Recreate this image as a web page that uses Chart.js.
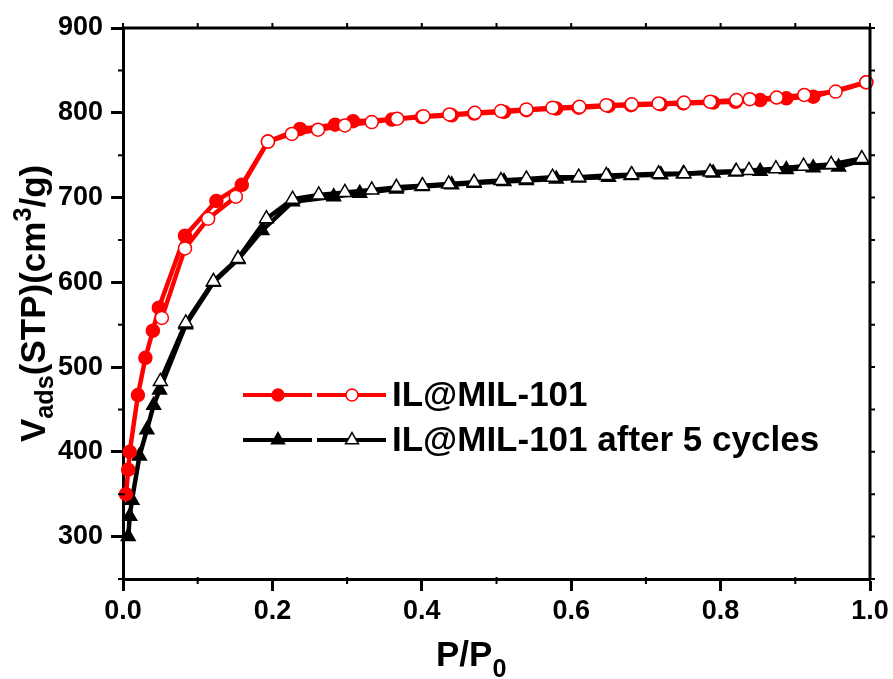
<!DOCTYPE html>
<html>
<head>
<meta charset="utf-8">
<script src="https://cdn.jsdelivr.net/npm/chart.js@4.4.0/dist/chart.umd.min.js"></script>
<style>
  html, body { margin: 0; padding: 0; background: #fff; }
  #wrap { position: relative; width: 893px; height: 679px; overflow: hidden; }
  .ttl { position: absolute; font-family: "Liberation Sans", Arial, sans-serif; font-weight: bold; color: #000; line-height: 1; white-space: nowrap; }
  .ttl sub, .ttl sup { font-size: 0.72em; line-height: 0; }
  #xTitle { left: 436px; top: 636px; font-size: 35px; }
  #xTitle sub { position: relative; top: 0.45em; vertical-align: baseline; }
  #yTitle { left: 15px; top: 442px; font-size: 35px; transform-origin: 0 0; transform: rotate(-90deg); }
  #yTitle sub { position: relative; top: 0.3em; vertical-align: baseline; }
  #yTitle sup { position: relative; top: -0.55em; vertical-align: baseline; }
</style>
</head>
<body>
<div id="wrap">
  <canvas id="chart" width="893" height="679"></canvas>
  <div class="ttl" id="xTitle">P/P<sub>0</sub></div>
  <div class="ttl" id="yTitle">V<sub>ads</sub>(STP)(cm<sup>3</sup>/g)</div>
</div>
<script>
// tick values
const xTicks = [0, 0.2, 0.4, 0.6, 0.8, 1.0];
const xMinor = [0.1, 0.3, 0.5, 0.7, 0.9];
const yTicks = [300, 400, 500, 600, 700, 800, 900];
const yMinor = [250, 350, 450, 550, 650, 750, 850];

// IL@MIL-101 - adsorption (filled) / desorption (open)
const redAdsX = [0.004, 0.007, 0.009, 0.020, 0.030, 0.040, 0.048, 0.083, 0.125, 0.159, 0.194, 0.237, 0.284, 0.308,
  0.36, 0.40, 0.44, 0.47, 0.51, 0.54, 0.58, 0.61, 0.65, 0.68, 0.72, 0.75, 0.79, 0.82, 0.853, 0.888, 0.924, 0.995];
const redAdsY = [350, 379, 400, 467, 511, 543, 570, 655, 696, 715, 766, 781, 786, 790,
  792, 795, 797, 799, 801, 803, 805, 806, 808, 809, 810, 811, 812, 813, 815, 817, 819, 836];
const redDesX = [0.995, 0.954, 0.912, 0.875, 0.839, 0.821, 0.786, 0.751, 0.717, 0.681, 0.647, 0.611, 0.575, 0.540,
  0.506, 0.471, 0.437, 0.402, 0.367, 0.333, 0.297, 0.261, 0.226, 0.194, 0.151, 0.114, 0.083, 0.052];
const redDesY = [836, 825, 821, 818, 816, 815, 813, 812, 811, 810, 809, 807, 806, 804,
  802, 800, 798, 796, 793, 789, 785, 780, 775, 766, 701, 675, 640, 558];

// IL@MIL-101 after 5 cycles
const blkAdsX = [0.007, 0.009, 0.012, 0.022, 0.032, 0.041, 0.049, 0.084, 0.121, 0.154, 0.186, 0.227, 0.282, 0.317,
  0.366, 0.40, 0.44, 0.47, 0.51, 0.54, 0.58, 0.61, 0.65, 0.68, 0.72, 0.75, 0.79, 0.82, 0.853, 0.888, 0.924, 0.958, 0.989];
const blkAdsY = [300, 324, 343, 395, 426, 455, 473, 550, 600, 627, 661, 695, 701, 705,
  710, 713, 715, 717, 719, 720, 722, 723, 724, 726, 727, 728, 729, 730, 731, 733, 735, 736, 744];
const blkDesX = [0.989, 0.948, 0.911, 0.874, 0.838, 0.821, 0.786, 0.751, 0.717, 0.681, 0.647, 0.610, 0.575, 0.540,
  0.506, 0.470, 0.436, 0.401, 0.366, 0.333, 0.297, 0.262, 0.227, 0.192, 0.154, 0.121, 0.084, 0.050];
const blkDesY = [746, 739, 737, 734, 732, 731, 730, 728, 728, 727, 726, 724, 724, 722,
  720, 718, 716, 714, 712, 709, 706, 703, 698, 675, 628, 601, 552, 483];

const seriesNames = ['IL@MIL-101', 'IL@MIL-101 after 5 cycles'];
const RED = '#ff0000';
const BLK = '#000000';
const FONT = '"Liberation Sans", Arial, sans-serif';

const pts = (xs, ys) => xs.map((x, i) => ({ x, y: ys[i] }));

function series(label, xs, ys, color, style, fill, radius, order) {
  return {
    label, data: pts(xs, ys), order,
    borderColor: color, borderWidth: 4.5, borderJoinStyle: 'round', borderCapStyle: 'round',
    pointStyle: style, pointRadius: radius, pointBorderWidth: 1.5,
    pointBackgroundColor: fill, pointBorderColor: color,
    tension: 0, clip: false,
  };
}

// frame, mirror ticks, minor ticks, legend
const extras = {
  id: 'extras',
  afterDraw(chart) {
    const { ctx, chartArea: a, scales: { x, y } } = chart;
    ctx.save();
    ctx.strokeStyle = '#000';
    ctx.lineWidth = 3;
    ctx.beginPath();
    ctx.moveTo(a.left, a.top); ctx.lineTo(a.right, a.top); ctx.lineTo(a.right, a.bottom);
    ctx.stroke();
    ctx.lineWidth = 2;
    ctx.beginPath();
    xTicks.concat(xMinor).forEach((v) => {
      const px = x.getPixelForValue(v);
      ctx.moveTo(px, a.top); ctx.lineTo(px, a.top - 5);
    });
    xMinor.forEach((v) => {
      const px = x.getPixelForValue(v);
      ctx.moveTo(px, a.bottom - 2); ctx.lineTo(px, a.bottom + 5);
    });
    yTicks.concat(yMinor).forEach((v) => {
      const py = y.getPixelForValue(v);
      ctx.moveTo(a.right, py); ctx.lineTo(a.right + 5, py);
    });
    yMinor.forEach((v) => {
      const py = y.getPixelForValue(v);
      ctx.moveTo(a.left + 2, py); ctx.lineTo(a.left - 5, py);
    });
    ctx.stroke();

    // legend: two segments per row (adsorption / desorption), then label
    const rows = [[0, 1, 395], [2, 3, 440]];
    rows.forEach(([ia, id, ly], r) => {
      [[ia, 243, 278], [id, 317, 352]].forEach(([di, x0, xm]) => {
        const ds = chart.data.datasets[di];
        ctx.strokeStyle = ds.borderColor;
        ctx.lineWidth = 4;
        ctx.lineCap = 'butt';
        ctx.beginPath(); ctx.moveTo(x0, ly); ctx.lineTo(x0 + 69, ly); ctx.stroke();
        ctx.fillStyle = ds.pointBackgroundColor;
        ctx.lineWidth = 1.5;
        Chart.helpers.drawPoint(ctx, { pointStyle: ds.pointStyle, radius: ds.pointRadius - 0.5, borderWidth: 1.5, rotation: 0 }, xm, ly);
      });
      ctx.fillStyle = '#000';
      ctx.font = 'bold 35px ' + FONT;
      ctx.textBaseline = 'middle';
      ctx.textAlign = 'left';
      ctx.fillText(seriesNames[r], 392, ly + 1);
    });
    ctx.restore();
  },
};

new Chart(document.getElementById('chart'), {
  type: 'line',
  data: {
    datasets: [
      series(seriesNames[0], redAdsX, redAdsY, RED, 'circle', RED, 6.5, 1),
      series(seriesNames[0] + ' (des)', redDesX, redDesY, RED, 'circle', '#ffffff', 6.5, 0),
      series(seriesNames[1], blkAdsX, blkAdsY, BLK, 'triangle', BLK, 8, 1),
      series(seriesNames[1] + ' (des)', blkDesX, blkDesY, BLK, 'triangle', '#ffffff', 8, 0),
    ],
  },
  options: {
    responsive: false,
    animation: false,
    devicePixelRatio: 1,
    layout: { padding: { top: 28, right: 23, left: 0, bottom: 0 } },
    plugins: { legend: { display: false }, tooltip: { enabled: false } },
    scales: {
      x: {
        type: 'linear', min: 0, max: 1,
        afterBuildTicks: (s) => { s.ticks = xTicks.map((v) => ({ value: v })); },
        afterFit: (s) => { s.height = 100; },
        grid: { drawOnChartArea: false, tickLength: 12, tickWidth: 3, tickColor: '#000' },
        border: { display: true, width: 3, color: '#000' },
        ticks: {
          color: '#000', padding: 4, maxRotation: 0,
          font: { family: FONT, size: 27, weight: 'bold' },
          callback: (v) => Number(v).toFixed(1),
        },
      },
      y: {
        type: 'linear', min: 250, max: 900,
        afterBuildTicks: (s) => { s.ticks = yTicks.map((v) => ({ value: v })); },
        afterFit: (s) => { s.width = 123; },
        grid: { drawOnChartArea: false, tickLength: 12, tickWidth: 3, tickColor: '#000' },
        border: { display: true, width: 3, color: '#000' },
        ticks: {
          color: '#000', padding: 8,
          font: { family: FONT, size: 27, weight: 'bold' },
        },
      },
    },
  },
  plugins: [extras],
});
</script>
</body>
</html>
